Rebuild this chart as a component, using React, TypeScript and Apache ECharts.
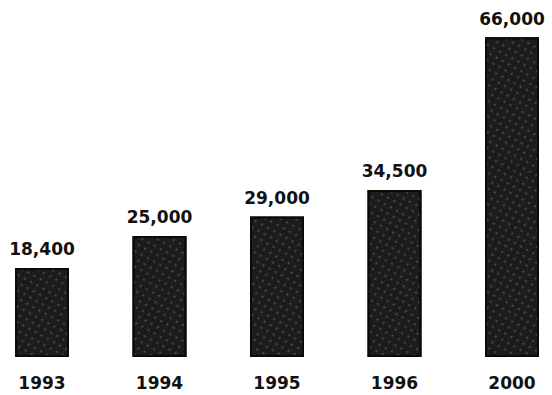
import React, { useEffect, useRef } from "react";
import * as echarts from "echarts";

const categories = ["1993", "1994", "1995", "1996", "2000"];
const values = [18400, 25000, 29000, 34500, 66000];

export default function App() {
  const ref = useRef<HTMLDivElement>(null);
  useEffect(() => {
    if (!ref.current) return;
    const chart = echarts.init(ref.current, undefined, { renderer: "svg" });
    chart.setOption({
      animation: false,
      backgroundColor: "#ffffff",
      grid: { left: 42, right: 40, top: 18, bottom: 38 },
      xAxis: {
        type: "category",
        data: categories,
        boundaryGap: false,
        axisLine: { show: false },
        axisTick: { show: false },
        axisLabel: {
          color: "#111",
          fontFamily: "DejaVu Sans",
          fontWeight: "bold",
          fontSize: 17,
          margin: 17,
        },
      },
      yAxis: {
        type: "value",
        min: 0,
        max: 70000,
        show: false,
        splitLine: { show: false },
      },
      series: [
        {
          type: "bar",
          data: values,
          barWidth: 54,
          itemStyle: {
            color: "#1c1c1c",
            borderColor: "#0a0a0a",
            borderWidth: 2,
            decal: {
              symbol: "circle",
              symbolSize: 0.6,
              color: "rgba(255,255,255,0.28)",
              dashArrayX: [[3, 4]],
              dashArrayY: [3, 4],
              rotation: 0.5,
            },
          },
          label: {
            show: true,
            position: "top",
            distance: 10,
            color: "#111",
            fontFamily: "DejaVu Sans",
            fontWeight: "bold",
            fontSize: 17,
            formatter: (p: any) => Number(p.value).toLocaleString("en-US"),
          },
        },
      ],
    });
    return () => chart.dispose();
  }, []);
  return (
    <div
      ref={ref}
      style={{ position: "fixed", left: 0, top: 0, width: 552, height: 395 }}
    />
  );
}
